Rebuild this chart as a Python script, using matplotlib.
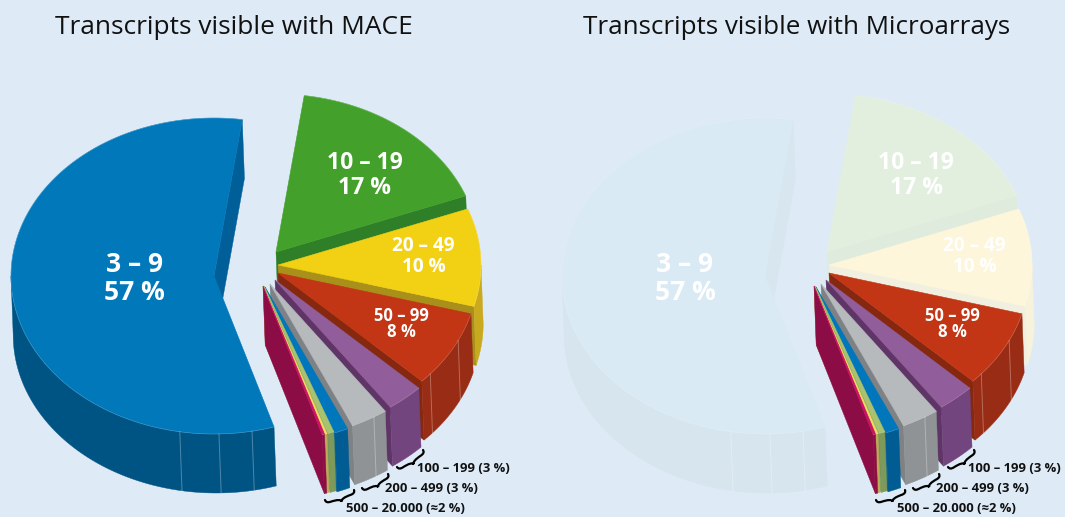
import numpy as np
import matplotlib
matplotlib.use("Agg")
import matplotlib.pyplot as plt
from matplotlib.patches import Polygon, PathPatch
from matplotlib.path import Path

# read clockwise round the pie, starting at the big blue slice
categories = ["3 – 9", "10 – 19", "20 – 49", "50 – 99", "100 – 199", "200 – 499",
              "500 – 999", "1000 – 4999", "5000 – 9999", "10000 – 20000"]
shares = [57, 17, 10, 8, 3, 3, 1.1, 0.5, 0.2, 0.2]

titles = ["Transcripts visible with MACE", "Transcripts visible with Microarrays"]
small_labels = ["100 – 199 (3 %)", "200 – 499 (3 %)", "500 – 20.000 (≈2 %)"]

top_colors = ["#0078BA", "#43A12B", "#F2D014", "#C23616", "#915E9B", "#B6BABC",
              "#0077BC", "#A9C270", "#F4DC5E", "#CC1166"]
face_colors = ["#005F99", "#2E7F27", "#A8901A", "#86280F", "#5F3568", "#7F8284",
               "#005F99", "#7E9A5A", "#C0A85A", "#8C0D45"]
wall_colors = ["#005484", "#2E7F27", "#C9A91E", "#982C14", "#72457E", "#8F9395",
               "#005C92", "#7E9A5A", "#C0A85A", "#8C0D45"]

# the right pie has its three largest slices washed out
faded_top = {0: "#D9EAF4", 1: "#E2EFDF", 2: "#FDF6DA"}
faded_face = {0: "#D7E6EF", 1: "#DFEBDC", 2: "#F1EFE0"}
faded_wall = {0: "#D7E5EE", 1: "#DFEBDC", 2: "#F7F2DC"}

# layout
bg = "#DEEBF7"
rx, ry = 203, 158
depth = (2.2, 59)
start_angle = -72.8
pie_center = (257, 266)
pie_step = 551
slice_shift = [(-43, 10), (19, -14), (21, -1), (21, 7), (18, 14), (13, 18),
               (8, 21), (7, 20), (6, 20), (6, 20)]
slice_scale = [1, 1, 1, 0.985, 0.985, 0.985, 0.985, 0.985, 0.985, 0.985]
seams = {0: [-99.7, -88.6, -79.2], 3: [-40.4, -25.7], 5: [-58.7]}


def rim(t, apex, scale=1):
    t = np.radians(t)
    return np.column_stack([apex[0] + scale * rx * np.cos(t), apex[1] - scale * ry * np.sin(t)])


def brace(ax, p0, p1, w=7):
    p0, p1 = np.array(p0, float), np.array(p1, float)
    u = p1 - p0
    n = np.array([-u[1], u[0]]) / np.hypot(*u)
    if n[1] < 0:
        n = -n
    mid = (p0 + p1) / 2
    verts = [p0, p0 + n * w / 2, p0 + n * w / 2 + u * 0.15,
             mid + n * w / 2, mid + n * w,
             mid + n * w / 2, p1 + n * w / 2 - u * 0.15,
             p1 + n * w / 2, p1]
    codes = [Path.MOVETO] + [Path.CURVE3] * 8
    ax.add_patch(PathPatch(Path(verts, codes), fc="none", ec="black", lw=1.6, capstyle="round"))


def draw_pie(ax, ox, faded):
    angles = start_angle - np.cumsum([0] + shares) * 3.6
    for i in range(len(shares)):
        top = top_colors[i]
        face = face_colors[i]
        wall = wall_colors[i]
        if faded:
            top = faded_top.get(i, top)
            face = faded_face.get(i, face)
            wall = faded_wall.get(i, wall)
        t0, t1 = angles[i], angles[i + 1]
        if t0 < -180:
            t0, t1 = t0 + 360, t1 + 360
        apex = (pie_center[0] + ox + slice_shift[i][0], pie_center[1] + slice_shift[i][1])
        sc = slice_scale[i]

        # cut face at the clockwise end of the slice
        a = np.array(apex, float)
        e = rim(np.array([t1]), apex, sc)[0]
        ax.add_patch(Polygon([a, e, e + depth, a + depth], fc=face, ec=face, lw=0.3))

        # side facing the viewer
        hi, lo = min(t0, 0), max(t1, -180)
        if hi > lo:
            arc = rim(np.linspace(hi, lo, 120), apex, sc)
            ax.add_patch(Polygon(np.vstack([arc, arc[::-1] + depth]), fc=wall, ec=wall, lw=0.3))
            for s in seams.get(i, []):
                p = rim(np.array([s]), apex, sc)
                q = p + depth
                ax.plot([p[0, 0], q[0, 0]], [p[0, 1], q[0, 1]], color="white", lw=0.7, alpha=0.3)

        # top surface
        arc = rim(np.linspace(t0, t1, 240), apex, sc)
        ax.add_patch(Polygon(np.vstack([[a], arc]), fc=top, ec=top, lw=0.4))
        ax.plot(arc[:, 0], arc[:, 1], color="white", lw=0.5, alpha=0.2)


fig = plt.figure(figsize=(10.65, 5.17), dpi=100, facecolor=bg)
ax = fig.add_axes([0, 0, 1, 1])
ax.set_xlim(0, 1065)
ax.set_ylim(517, 0)
ax.axis("off")

for k, ox in enumerate([0, pie_step]):
    draw_pie(ax, ox, k == 1)

    ax.text([233.5, 796.5][k], 27, titles[k], ha="center", va="center", fontsize=[18.9, 18.7][k],
            family="Open Sans", color="#111111")

    big = dict(ha="center", va="center", color="white", family="Open Sans", fontweight="bold")
    ax.text(134 + ox, 264, categories[0], fontsize=19, **big)
    ax.text(134 + ox, 292, "%d %%" % shares[0], fontsize=19, **big)
    ax.text(365 + ox, 163, categories[1], fontsize=16.5, **big)
    ax.text(365 + ox, 188, "%d %%" % shares[1], fontsize=16.5, **big)
    ax.text(423 + ox, 246, categories[2], fontsize=13.7, **big)
    ax.text(424 + ox, 267, "%d %%" % shares[2], fontsize=13.7, **big)
    ax.text(401 + ox, 316, categories[3], fontsize=12, **big)
    ax.text(401 + ox, 332, "%d %%" % shares[3], fontsize=12, **big)

    brace(ax, (397 + ox, 467), (423 + ox, 450))
    brace(ax, (362 + ox, 488), (388 + ox, 474))
    brace(ax, (325 + ox, 500), (354 + ox, 490))

    small = dict(ha="left", va="center", color="#111111", family="Open Sans",
                 fontweight="bold", fontsize=9.4)
    ax.text(417 + ox, 469, small_labels[0], **small)
    ax.text(385 + ox, 489, small_labels[1], **small)
    ax.text(346 + ox, 509, small_labels[2], **small)

fig.savefig("out.png", dpi=100, facecolor=bg)
